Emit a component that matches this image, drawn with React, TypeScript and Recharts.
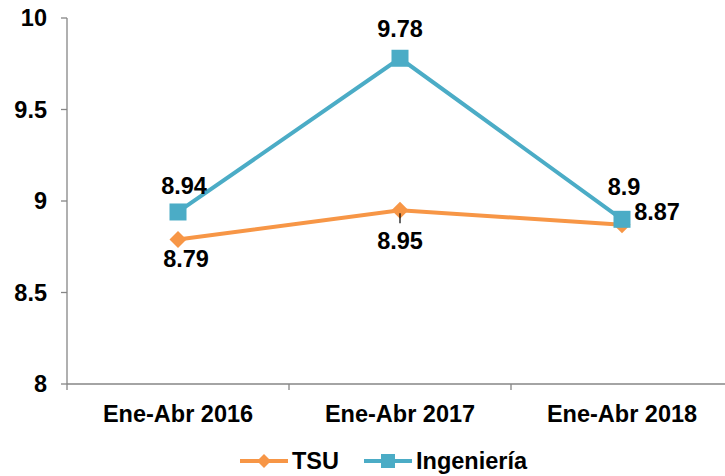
import React from 'react';
import { LineChart, Line, XAxis, YAxis, Legend, LabelList } from 'recharts';

const categories = ['Ene-Abr 2016', 'Ene-Abr 2017', 'Ene-Abr 2018'];
const tsuValues = [8.79, 8.95, 8.87];
const ingValues = [8.94, 9.78, 8.9];
const yTicks = [8, 8.5, 9, 9.5, 10];
const seriesOrder = ['tsu', 'ing'];

const data = categories.map((c, i) => ({ name: c, tsu: tsuValues[i], ing: ingValues[i] }));

const ORANGE = '#F79646';
const BLUE = '#4BACC6';
const AXIS = '#868686';
const FONT = '"Liberation Sans", Arial, sans-serif';
const FS = 23.5;

// label offsets (styling only)
const ingLabelOffset = [[6, -26], [0, -30], [2, -33]];
const tsuLabelOffset = [[8, 19], [0, 31], [35, -13]];

const Diamond = (props: any) => {
  const { cx, cy, fill } = props;
  if (cx == null || cy == null) return null;
  const r = 8.5;
  return (
    <polygon
      points={`${cx},${cy - r} ${cx + r},${cy} ${cx},${cy + r} ${cx - r},${cy}`}
      fill={fill || ORANGE}
    />
  );
};

const Square = (props: any) => {
  const { cx, cy, fill } = props;
  if (cx == null || cy == null) return null;
  const s = 17;
  return <rect x={cx - s / 2} y={cy - s / 2} width={s} height={s} fill={fill || BLUE} />;
};

const makeLabel = (offsets: number[][], leader: boolean) => (props: any) => {
  const { x, y, value, index } = props;
  const [dx, dy] = offsets[index] || [0, 0];
  return (
    <g>
      {leader && index === 1 ? (
        <line x1={x} y1={y + 3} x2={x} y2={y + 13} stroke="#000" strokeWidth={1.2} />
      ) : null}
      <text
        x={x + dx}
        y={y + dy}
        dy="0.355em"
        textAnchor="middle"
        fontFamily={FONT}
        fontWeight="bold"
        fontSize={FS}
        fill="#000"
      >
        {value}
      </text>
    </g>
  );
};

const XTick = (props: any) => {
  const { x, y, payload, index, visibleTicksCount } = props;
  const half = payload && payload.offset ? payload.offset : 111;
  const axisY = y - 21;
  return (
    <g>
      <line x1={x - half} y1={axisY} x2={x - half} y2={axisY + 6} stroke={AXIS} strokeWidth={1.3} />
      {index === (visibleTicksCount ?? 3) - 1 ? (
        <line x1={x + half} y1={axisY} x2={x + half} y2={axisY + 6} stroke={AXIS} strokeWidth={1.3} />
      ) : null}
      <text
        x={x}
        y={y}
        dy="0.71em"
        textAnchor="middle"
        fontFamily={FONT}
        fontWeight="bold"
        fontSize={FS}
        fill="#000"
      >
        {payload.value}
      </text>
    </g>
  );
};

const LegendContent = (props: any) => {
  const items = [...(props.payload || [])].sort(
    (a: any, b: any) => seriesOrder.indexOf(a.dataKey) - seriesOrder.indexOf(b.dataKey)
  );
  return (
    <div style={{ display: 'flex', alignItems: 'center', height: 30 }}>
      {items.map((entry: any, i: number) => {
        const isTsu = entry.dataKey === 'tsu';
        const color = isTsu ? ORANGE : BLUE;
        return (
          <div key={i} style={{ display: 'flex', alignItems: 'center', marginRight: i === 0 ? 25 : 0 }}>
            <svg width={48} height={20} style={{ display: 'block' }}>
              <line x1={0} y1={10} x2={48} y2={10} stroke={color} strokeWidth={4} />
              {isTsu ? (
                <polygon points="24,3 31,10 24,17 17,10" fill={color} />
              ) : (
                <rect x={17} y={3} width={14} height={14} fill={color} />
              )}
            </svg>
            <span
              style={{
                marginLeft: 4,
                fontFamily: FONT,
                fontWeight: 'bold',
                fontSize: FS,
                color: '#000',
                lineHeight: '30px',
              }}
            >
              {entry.value}
            </span>
          </div>
        );
      })}
    </div>
  );
};

export default function App() {
  return (
    <div
      style={{
        position: 'absolute',
        left: 0,
        top: 0,
        width: 725,
        height: 476,
        overflow: 'hidden',
        background: '#fff',
      }}
    >
      <LineChart
        width={735}
        height={476}
        data={data}
        margin={{ top: 18, right: 2, left: 0, bottom: 0 }}
      >
        <XAxis
          dataKey="name"
          scale="band"
          tick={<XTick />}
          tickLine={false}
          tickSize={6}
          tickMargin={15}
          axisLine={{ stroke: AXIS, strokeWidth: 1.3 }}
          height={62}
          interval={0}
        />
        <YAxis
          domain={[8, 10]}
          ticks={yTicks}
          width={67}
          tickSize={6}
          tickMargin={14}
          axisLine={{ stroke: AXIS, strokeWidth: 1.3 }}
          tickLine={{ stroke: AXIS, strokeWidth: 1.3 }}
          tick={{ fontFamily: FONT, fontWeight: 'bold', fontSize: FS, fill: '#000' }}
        />
        <Legend
          verticalAlign="bottom"
          content={<LegendContent />}
          wrapperStyle={{ left: 240, width: 'auto', bottom: 0, height: 30 }}
        />
        <Line
          dataKey="tsu"
          name="TSU"
          stroke={ORANGE}
          strokeWidth={4}
          dot={<Diamond fill={ORANGE} />}
          activeDot={false}
          isAnimationActive={false}
        >
          <LabelList dataKey="tsu" content={makeLabel(tsuLabelOffset, true)} />
        </Line>
        <Line
          dataKey="ing"
          name="Ingeniería"
          stroke={BLUE}
          strokeWidth={4}
          dot={<Square fill={BLUE} />}
          activeDot={false}
          isAnimationActive={false}
        >
          <LabelList dataKey="ing" content={makeLabel(ingLabelOffset, false)} />
        </Line>
      </LineChart>
    </div>
  );
}
